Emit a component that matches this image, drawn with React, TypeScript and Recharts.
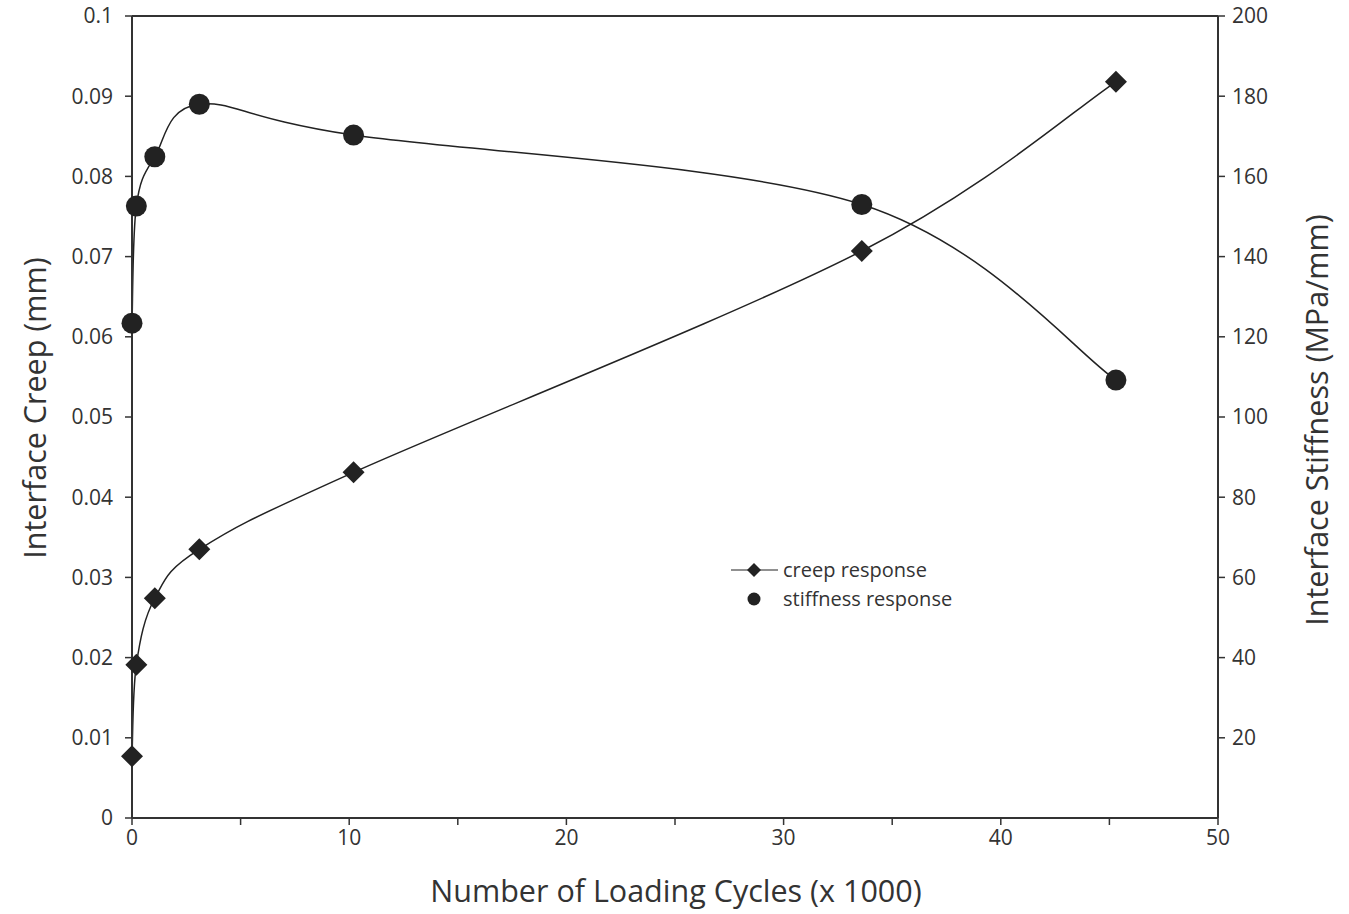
import React from "react";
import {
  Customized,
  Line,
  LineChart,
  ReferenceLine,
  XAxis,
  YAxis,
} from "recharts";

// values
const cycles = [0, 0.2, 1.05, 3.1, 10.2, 33.6, 45.3];
const creep = [0.0077, 0.0191, 0.0274, 0.0335, 0.0431, 0.0707, 0.0918];
const stiffness = [123.4, 152.6, 164.9, 178.0, 170.3, 153.0, 109.2];

const xTicks = [0, 5, 10, 15, 20, 25, 30, 35, 40, 45, 50];
const creepTicks = [0, 0.01, 0.02, 0.03, 0.04, 0.05, 0.06, 0.07, 0.08, 0.09, 0.1];
const stiffTicks = [20, 40, 60, 80, 100, 120, 140, 160, 180, 200];

const chartData = cycles.map((c, i) => ({
  cycles: c,
  creep: creep[i],
  stiffness: stiffness[i],
}));

const FONT = "'Open Sans', sans-serif";
const INK = "#222";
const AXIS = "#333";

// Excel-style smoothing (uniform Catmull-Rom as cubic beziers)
const excelCurve = (context: any) => {
  let pts: [number, number][] = [];
  return {
    areaStart() {},
    areaEnd() {},
    lineStart() {
      pts = [];
    },
    point(x: number, y: number) {
      pts.push([+x, +y]);
    },
    lineEnd() {
      if (!pts.length) return;
      context.moveTo(pts[0][0], pts[0][1]);
      for (let i = 0; i < pts.length - 1; i++) {
        const p0 = pts[Math.max(i - 1, 0)];
        const p1 = pts[i];
        const p2 = pts[i + 1];
        const p3 = pts[Math.min(i + 2, pts.length - 1)];
        context.bezierCurveTo(
          p1[0] + (p2[0] - p0[0]) / 6,
          p1[1] + (p2[1] - p0[1]) / 6,
          p2[0] - (p3[0] - p1[0]) / 6,
          p2[1] - (p3[1] - p1[1]) / 6,
          p2[0],
          p2[1]
        );
      }
    },
  };
};

const Diamond = ({ cx, cy, r = 11 }: any) => (
  <polygon
    points={`${cx},${cy - r} ${cx + r},${cy} ${cx},${cy + r} ${cx - r},${cy}`}
    fill={INK}
  />
);

const fmtCreep = (v: number) => (v === 0 ? "0" : String(+v.toFixed(2)));

// legend box sits inside the plot, plus the three axis titles
const Overlay = () => (
  <g fontFamily={FONT} fill={AXIS}>
    <g transform="translate(728,556)">
      <line x1={3} y1={14} x2={50} y2={14} stroke={INK} strokeWidth={1.2} />
      <Diamond cx={26} cy={14} r={7} />
      <text x={55} y={14} dy="0.35em" fontSize={20}>
        creep response
      </text>
      <circle cx={26} cy={43} r={6.5} fill={INK} />
      <text x={55} y={43} dy="0.35em" fontSize={20}>
        stiffness response
      </text>
    </g>
    <g fontSize={30.5}>
      <text x={34} y={408} textAnchor="middle" dominantBaseline="central" transform="rotate(-90 34 408)">
        Interface Creep (mm)
      </text>
      <text x={1316} y={420} textAnchor="middle" dominantBaseline="central" transform="rotate(-90 1316 420)">
        Interface Stiffness (MPa/mm)
      </text>
      <text x={676} y={890} textAnchor="middle" dominantBaseline="central">
        Number of Loading Cycles (x 1000)
      </text>
    </g>
  </g>
);

const App = () => {
  const tickStyle = { fontFamily: FONT, fontSize: 21, fill: AXIS };
  return (
    <div style={{ position: "absolute", left: 0, top: 0, background: "#fff" }}>
      <LineChart
        width={1349}
        height={914}
        data={chartData}
        margin={{ top: 16, right: 1, left: 2, bottom: 0 }}
      >
        <XAxis
          dataKey="cycles"
          type="number"
          domain={[0, 50]}
          ticks={xTicks}
          tickFormatter={(v: number) => (v % 10 === 0 ? String(v) : "")}
          height={96}
          tickSize={7}
          tickMargin={5}
          tick={tickStyle}
          stroke={AXIS}
          axisLine={{ stroke: AXIS, strokeWidth: 2 }}
          tickLine={{ stroke: AXIS, strokeWidth: 1.5 }}
        />
        <YAxis
          yAxisId="left"
          orientation="left"
          domain={[0, 0.1]}
          ticks={creepTicks}
          tickFormatter={fmtCreep}
          width={130}
          tickSize={7}
          tickMargin={12}
          tick={tickStyle}
          stroke={AXIS}
          axisLine={{ stroke: AXIS, strokeWidth: 2 }}
          tickLine={{ stroke: AXIS, strokeWidth: 1.5 }}
        />
        <YAxis
          yAxisId="right"
          orientation="right"
          domain={[0, 200]}
          ticks={stiffTicks}
          width={130}
          tickSize={7}
          tickMargin={7}
          tick={tickStyle}
          stroke={AXIS}
          axisLine={{ stroke: AXIS, strokeWidth: 2 }}
          tickLine={{ stroke: AXIS, strokeWidth: 1.5 }}
        />
        <ReferenceLine yAxisId="left" y={0.1} stroke={AXIS} strokeWidth={2} />
        <Line
          yAxisId="left"
          dataKey="creep"
          type={excelCurve as any}
          stroke={INK}
          strokeWidth={1.5}
          isAnimationActive={false}
          dot={(p: any) => <Diamond key={`c-${p.index}`} cx={p.cx} cy={p.cy} />}
          activeDot={false}
        />
        <Line
          yAxisId="right"
          dataKey="stiffness"
          type={excelCurve as any}
          stroke={INK}
          strokeWidth={1.5}
          isAnimationActive={false}
          dot={(p: any) => (
            <circle key={`s-${p.index}`} cx={p.cx} cy={p.cy} r={10.5} fill={INK} />
          )}
          activeDot={false}
        />
        <Customized component={Overlay} />
      </LineChart>
    </div>
  );
};

export default App;
